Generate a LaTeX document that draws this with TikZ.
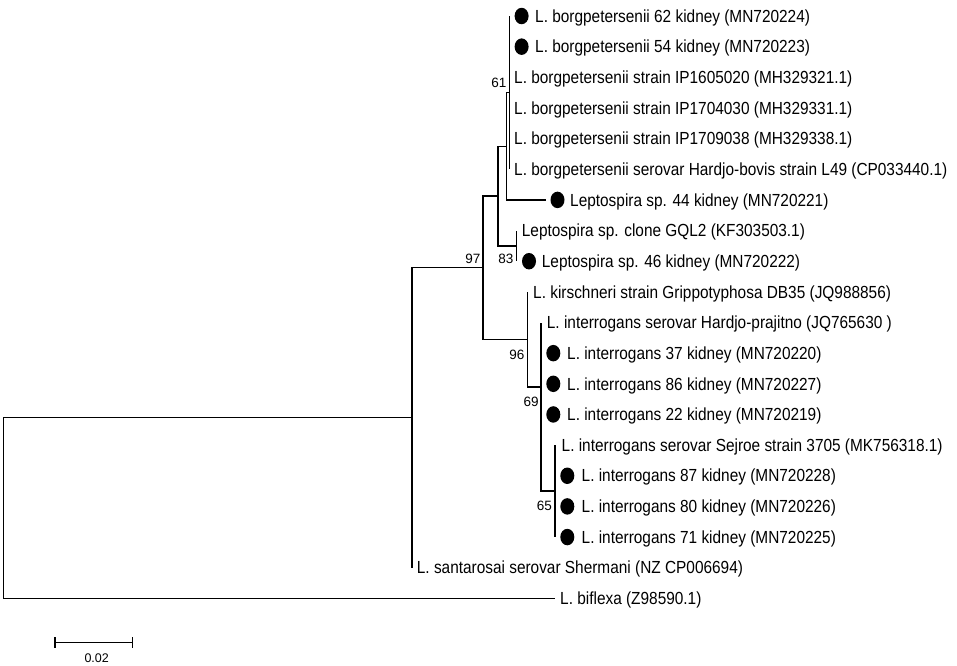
\documentclass[tikz,border=0pt]{standalone}
\usepackage{fontspec}
\setmainfont{Liberation Sans}
\usetikzlibrary{shapes.geometric}
\newcommand{\sx}[1]{\scalebox{0.88}[1]{#1}}
\begin{document}
\begin{tikzpicture}[x=1pt,y=-1pt,
  br/.style={line width=1.3pt, line join=miter},
  leaf/.style={anchor=base west, inner sep=0pt, font=\fontsize{17.5}{20}\selectfont},
  boot/.style={anchor=base east, inner sep=0pt, font=\fontsize{13.5}{15}\selectfont},
  dotmark/.style={ellipse, fill=black, draw=none, inner sep=0pt, minimum width=14pt, minimum height=16.5pt},
  sbar/.style={line width=1.1pt}]
\useasboundingbox (0,0) rectangle (957,665);
% internal nodes
\coordinate (root) at (3.5,508);
\coordinate (n1) at (412,417.7);
\coordinate (n97) at (483,267.8);
\coordinate (nA) at (498,196.1);
\coordinate (nB) at (506.7,146.3);
\coordinate (n61) at (509.3,92.6);
\coordinate (n83) at (516.7,245.9);
\coordinate (n96) at (527.7,339.4);
\coordinate (n69) at (541,387);
\coordinate (n65) at (555,491.1);
% leaf tips
\coordinate (l0) at (509.3,16);
\coordinate (l1) at (509.3,46.65);
\coordinate (l2) at (509.3,77.3);
\coordinate (l3) at (509.3,107.95);
\coordinate (l4) at (509.3,138.6);
\coordinate (l5) at (509.3,169.25);
\coordinate (l6) at (546,199.9);
\coordinate (l7) at (516.7,230.55);
\coordinate (l8) at (516.7,261.2);
\coordinate (l9) at (527.7,291.85);
\coordinate (l10) at (541,322.5);
\coordinate (l11) at (541,353.15);
\coordinate (l12) at (541,383.8);
\coordinate (l13) at (541,414.45);
\coordinate (l14) at (555,445.1);
\coordinate (l15) at (555,475.75);
\coordinate (l16) at (555,506.4);
\coordinate (l17) at (555,537.05);
\coordinate (l18) at (412,567.7);
\coordinate (l19) at (555,598.35);
% branches
\draw[br] (root) |- (n1);
\draw[br] (root) |- (l19);
\draw[br] (n1) |- (n97);
\draw[br] (n1) |- (l18);
\draw[br] (n97) |- (nA);
\draw[br] (n97) |- (n96);
\draw[br] (nA) |- (nB);
\draw[br] (nA) |- (n83);
\draw[br] (nB) |- (n61);
\draw[br] (nB) |- (l6);
\foreach \i in {0,...,5} {\draw[br] (n61) |- (l\i);}
\draw[br] (n83) |- (l7);
\draw[br] (n83) |- (l8);
\draw[br] (n96) |- (l9);
\draw[br] (n96) |- (n69);
\foreach \i in {10,...,13} {\draw[br] (n69) |- (l\i);}
\draw[br] (n69) |- (n65);
\foreach \i in {14,...,17} {\draw[br] (n65) |- (l\i);}
% dots
\foreach \i in {0,1,8,11,12,13,15,16,17} {\node[dotmark] (d\i) at ([xshift=12.3pt]l\i) {};}
\node[dotmark] (d6) at ([xshift=11.5pt]l6) {};
% leaf labels
\node[leaf] (t0) at ([xshift=25.7pt,yshift=-6.2pt]l0) {\sx{L. borgpetersenii 62 kidney (MN720224)}};
\node[leaf] (t1) at ([xshift=25.7pt,yshift=-6.2pt]l1) {\sx{L. borgpetersenii 54 kidney (MN720223)}};
\node[leaf] (t2) at ([xshift=4.7pt,yshift=-6.2pt]l2) {\sx{L. borgpetersenii strain IP1605020 (MH329321.1)}};
\node[leaf] (t3) at ([xshift=4.7pt,yshift=-6.2pt]l3) {\sx{L. borgpetersenii strain IP1704030 (MH329331.1)}};
\node[leaf] (t4) at ([xshift=4.7pt,yshift=-6.2pt]l4) {\sx{L. borgpetersenii strain IP1709038 (MH329338.1)}};
\node[leaf] (t5) at ([xshift=4.7pt,yshift=-6.2pt]l5) {\sx{L. borgpetersenii serovar Hardjo-bovis strain L49 (CP033440.1)}};
\node[leaf] (t6) at ([xshift=24pt,yshift=-6.2pt]l6) {\sx{Leptospira sp. 44 kidney (MN720221)}};
\node[leaf] (t7) at ([xshift=5pt,yshift=-6.2pt]l7) {\sx{Leptospira sp. clone GQL2 (KF303503.1)}};
\node[leaf] (t8) at ([xshift=25pt,yshift=-6.2pt]l8) {\sx{Leptospira sp. 46 kidney (MN720222)}};
\node[leaf] (t9) at ([xshift=5.3pt,yshift=-6.2pt]l9) {\sx{L. kirschneri strain Grippotyphosa DB35 (JQ988856)}};
\node[leaf] (t10) at ([xshift=5.7pt,yshift=-6.2pt]l10) {\sx{L. interrogans serovar Hardjo-prajitno (JQ765630 )}};
\node[leaf] (t11) at ([xshift=26pt,yshift=-6.2pt]l11) {\sx{L. interrogans 37 kidney (MN720220)}};
\node[leaf] (t12) at ([xshift=26pt,yshift=-6.2pt]l12) {\sx{L. interrogans 86 kidney (MN720227)}};
\node[leaf] (t13) at ([xshift=26pt,yshift=-6.2pt]l13) {\sx{L. interrogans 22 kidney (MN720219)}};
\node[leaf] (t14) at ([xshift=6.5pt,yshift=-6.2pt]l14) {\sx{L. interrogans serovar Sejroe strain 3705 (MK756318.1)}};
\node[leaf] (t15) at ([xshift=26.5pt,yshift=-6.2pt]l15) {\sx{L. interrogans 87 kidney (MN720228)}};
\node[leaf] (t16) at ([xshift=26.5pt,yshift=-6.2pt]l16) {\sx{L. interrogans 80 kidney (MN720226)}};
\node[leaf] (t17) at ([xshift=26.5pt,yshift=-6.2pt]l17) {\sx{L. interrogans 71 kidney (MN720225)}};
\node[leaf] (t18) at ([xshift=4.7pt,yshift=-6.2pt]l18) {\sx{L. santarosai serovar Shermani (NZ CP006694)}};
\node[leaf] (t19) at ([xshift=5pt,yshift=-6.2pt]l19) {\sx{L. biflexa (Z98590.1)}};
% bootstrap values
\node[boot] (b61) at (506.7,87.5) {61};
\node[boot] (b97) at (480.5,263) {97};
\node[boot] (b83) at (513.5,263) {83};
\node[boot] (b96) at (524.5,359) {96};
\node[boot] (b69) at (538.8,406.5) {69};
\node[boot] (b65) at (552.2,510) {65};
% scale bar
\coordinate (s1) at (55,642.7);
\coordinate (s2) at (132.3,642.7);
\draw[sbar] (s1) -- (s2);
\draw[sbar] ([yshift=5.5pt]s1) -- ([yshift=-5.5pt]s1);
\draw[sbar] ([yshift=5.5pt]s2) -- ([yshift=-5.5pt]s2);
\node[inner sep=0pt, font=\fontsize{12.5}{14}\selectfont] (sl) at (96.7,657.7) {0.02};
\end{tikzpicture}
\end{document}
